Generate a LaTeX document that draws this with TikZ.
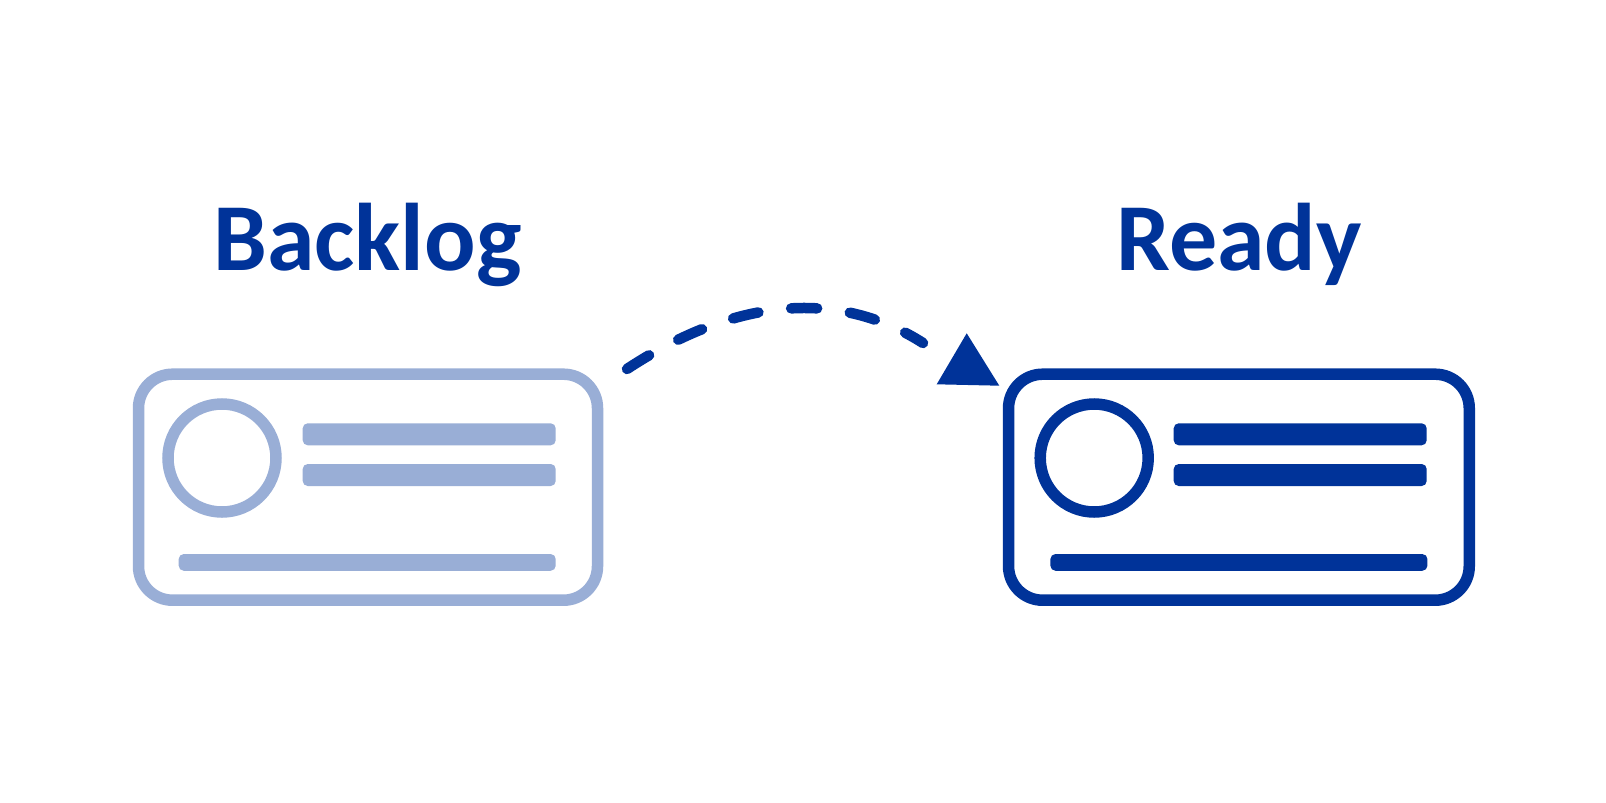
\documentclass[tikz,border=0pt]{standalone}
\usepackage{fontspec}
\setmainfont{Carlito}
\definecolor{dk}{RGB}{0,51,153}
\definecolor{lt}{RGB}{153,174,214}
\begin{document}
\begin{tikzpicture}[x=1pt,y=-1pt,
  card/.style={draw, line width=11.5pt, rounded corners=34pt, inner sep=0pt, outer sep=0pt, minimum height=226pt},
  avatar/.style={draw, circle, line width=11.5pt, inner sep=0pt, minimum size=108pt},
  bar/.style={fill, rectangle, rounded corners=5pt, inner sep=0pt, minimum width=253pt, minimum height=22pt},
  longbar/.style={fill, rectangle, rounded corners=5pt, inner sep=0pt, minimum width=377pt, minimum height=16.7pt},
  title/.style={text=dk, font=\fontsize{96}{100}\selectfont\bfseries, anchor=base, inner sep=0pt},
  flow/.style={dk, line width=10.5pt, line cap=round, dash pattern=on 26pt off 33pt}
]
\useasboundingbox (0,0) rectangle (1606,803);
\fill[white] (0,0) rectangle (1606,803);

% Backlog card
\begin{scope}[lt]
\node[card, minimum width=459pt] (cardL) at (368,487.2) {};
\node[avatar] (avL) at (222,458) {};
\node[bar] (barL1) at (429.2,434.3) {};
\node[bar] (barL2) at (429.2,475) {};
\node[longbar] (barL3) at (367.2,562.4) {};
\end{scope}

% Ready card
\begin{scope}[dk]
\node[card, minimum width=460.7pt] (cardR) at (1238.9,487.2) {};
\node[avatar] (avR) at (1094.2,458) {};
\node[bar] (barR1) at (1300.2,434.3) {};
\node[bar] (barR2) at (1300.2,475) {};
\node[longbar] (barR3) at (1238.9,562.4) {};
\end{scope}

% titles
\node[title] (tBacklog) at (367.5,270) {Backlog};
\node[title] (tReady) at (1239,270) {Ready};

% dashed connector
\coordinate (arrS) at (627,369);
\coordinate (arrE) at (923,343);
\draw[flow] (arrS) .. controls (738,296) and (840,290) .. (arrE);
\fill[dk] (936.7,384.3) -- (966.7,333.3) -- (999.3,385.7) -- cycle;
\end{tikzpicture}
\end{document}
